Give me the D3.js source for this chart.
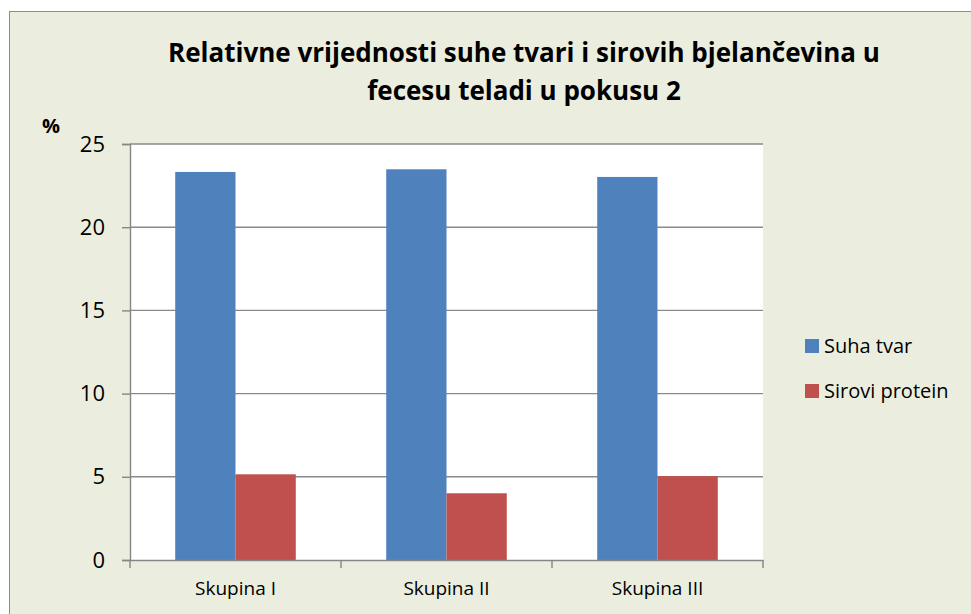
<!DOCTYPE html>
<html>
<head>
<meta charset="utf-8">
<script src="https://cdn.jsdelivr.net/npm/d3@7/dist/d3.min.js"></script>
<style>
  html, body { margin: 0; padding: 0; background: #fff; }
  svg { display: block; font-family: "Open Sans", "Noto Sans", sans-serif; }
</style>
</head>
<body>
<svg id="chart" width="971" height="614"></svg>
<script>
// chart data
var categories = ['Skupina I', 'Skupina II', 'Skupina III'];
var seriesNames = ['Suha tvar', 'Sirovi protein'];
var suhaTvar = [23.32, 23.48, 23.02];
var siroviProtein = [5.15, 4.01, 5.04];
var yTicks = [0, 5, 10, 15, 20, 25];
var titleLines = ['Relativne vrijednosti suhe tvari i sirovih bjelančevina u', 'fecesu teladi u pokusu 2'];

(function() {
    var colors = ['#4F81BD', '#C0504D'];
    var svg = d3.select('#chart');

    // chart area background
    svg.append('rect')
        .attr('x', 9.5).attr('y', 11.5)
        .attr('width', 980).attr('height', 620)
        .attr('fill', '#EBEEDF')
        .attr('stroke', '#8c8c8c')
        .attr('stroke-width', 1);

    var pLeft = 130, pRight = 763, pTop = 144, pBottom = 560;

    var x0 = d3.scaleBand().domain(categories).range([pLeft, pRight]).padding(0);
    var y = d3.scaleLinear().domain([0, 25]).range([pBottom, pTop]);
    // Excel gap width 150%: bar = band / (2 + 1.5)
    var barW = x0.bandwidth() / 3.5;
    var x1 = d3.scaleBand().domain(seriesNames).range([barW * 0.75, barW * 2.75]).padding(0);

    // plot area
    svg.append('rect')
        .attr('x', pLeft).attr('y', pTop)
        .attr('width', pRight - pLeft).attr('height', pBottom - pTop)
        .attr('fill', '#fff');

    // gridlines
    svg.append('g').selectAll('line')
        .data(yTicks.filter(function(d) { return d > 0; }))
        .enter().append('line')
        .attr('x1', pLeft).attr('x2', pRight)
        .attr('y1', function(d) { return y(d); })
        .attr('y2', function(d) { return y(d); })
        .attr('stroke', '#8a8a8a')
        .attr('stroke-width', 1.4);

    // bars
    var rows = categories.map(function(c, i) {
        return { cat: c, values: [suhaTvar[i], siroviProtein[i]] };
    });
    var groups = svg.append('g').selectAll('g')
        .data(rows)
        .enter().append('g')
        .attr('transform', function(d) { return 'translate(' + x0(d.cat) + ',0)'; });
    groups.selectAll('rect')
        .data(function(d) { return d.values.map(function(v, j) { return { name: seriesNames[j], v: v, j: j }; }); })
        .enter().append('rect')
        .attr('x', function(d) { return x1(d.name); })
        .attr('width', x1.bandwidth())
        .attr('y', function(d) { return y(d.v); })
        .attr('height', function(d) { return pBottom - y(d.v); })
        .attr('fill', function(d) { return colors[d.j]; });

    // y axis
    var yAxis = svg.append('g')
        .attr('transform', 'translate(' + pLeft + ',0)')
        .call(d3.axisLeft(y).tickValues(yTicks).tickSize(8).tickPadding(17));
    yAxis.select('.domain').attr('stroke', '#868686').attr('stroke-width', 1.4);
    yAxis.selectAll('.tick line').attr('stroke', '#868686').attr('stroke-width', 1.4);
    yAxis.selectAll('.tick text')
        .attr('fill', '#000')
        .style('font-size', '22px')
        .style('font-family', '"Open Sans", sans-serif');

    // x axis
    var xAxis = svg.append('g')
        .attr('transform', 'translate(0,' + pBottom + ')')
        .call(d3.axisBottom(x0).tickSize(0).tickPadding(22));
    xAxis.select('.domain').attr('stroke', '#868686').attr('stroke-width', 1.4);
    xAxis.selectAll('.tick text')
        .attr('fill', '#000')
        .style('font-size', '19px')
        .style('font-family', '"Open Sans", sans-serif');
    // category separator ticks
    var sepTicks = [pLeft].concat(categories.map(function(c) { return x0(c) + x0.bandwidth(); }));
    xAxis.selectAll('.sep')
        .data(sepTicks)
        .enter().append('line')
        .attr('class', 'sep')
        .attr('x1', function(d) { return d; }).attr('x2', function(d) { return d; })
        .attr('y1', 0).attr('y2', 8)
        .attr('stroke', '#868686')
        .attr('stroke-width', 1.4);

    // title
    svg.append('g').selectAll('text')
        .data(titleLines)
        .enter().append('text')
        .attr('x', 524)
        .attr('y', function(d, i) { return 62 + i * 38; })
        .attr('text-anchor', 'middle')
        .style('font-size', '26px')
        .style('font-weight', 'bold')
        .text(function(d) { return d; });

    // y unit label
    svg.append('text')
        .attr('x', 42).attr('y', 133)
        .style('font-size', '20px')
        .style('font-weight', 'bold')
        .text('%');

    // legend
    var legend = svg.append('g').selectAll('g')
        .data(seriesNames)
        .enter().append('g')
        .attr('transform', function(d, i) { return 'translate(805,' + (339 + i * 45) + ')'; });
    legend.append('rect')
        .attr('width', 14).attr('height', 14)
        .attr('fill', function(d, i) { return colors[i]; });
    legend.append('text')
        .attr('x', 19).attr('y', 14)
        .style('font-size', '20px')
        .text(function(d) { return d; });
})();
</script>
</body>
</html>
